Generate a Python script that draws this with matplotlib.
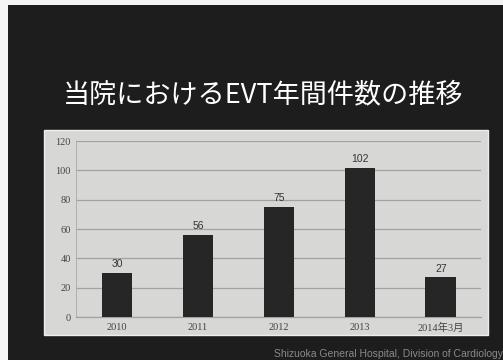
import matplotlib

matplotlib.use("Agg")
import matplotlib.pyplot as plt
from matplotlib.patches import Rectangle

# annual EVT case counts
years = ["2010", "2011", "2012", "2013", "2014年3月"]
counts = [30, 56, 75, 102, 27]
y_ticks = [0, 20, 40, 60, 80, 100, 120]

title = "当院におけるEVT年間件数の推移"
footer = "Shizuoka General Hospital, Division of Cardiology"

BG = "#1d1d1d"
PANEL = "#d7d7d5"
BAR = "#262626"
GRID = "#a2a2a0"

fig = plt.figure(figsize=(5.03, 3.6), dpi=100)
fig.patch.set_facecolor("#f4f4f4")

# dark slide area
fig.add_artist(Rectangle((0.016, 0.0), 0.984, 0.986, transform=fig.transFigure,
                         facecolor=BG, edgecolor="none", zorder=0))
# light chart panel
fig.add_artist(Rectangle((0.0875, 0.069), 0.883, 0.570, transform=fig.transFigure,
                         facecolor=PANEL, edgecolor="#eeeeee", linewidth=1.0, zorder=1))

fig.text(0.523, 0.736, title, color="white", fontsize=19.5,
         family=["Noto Sans CJK JP"], ha="center", va="center")
fig.text(0.545, 0.004, footer, color="#8a8a8a", fontsize=7.5,
         family=["Liberation Sans"], ha="left", va="bottom")

ax = fig.add_axes([0.152, 0.1194, 0.805, 0.4886], zorder=2)
ax.set_facecolor("none")
x = list(range(len(years)))
ax.bar(x, counts, width=0.38, color=BAR, zorder=3)
for xi, c in zip(x, counts):
    ax.text(xi, c + 2.5, str(c), ha="center", va="bottom", fontsize=7.5,
            color="#333333", family=["Liberation Sans"], zorder=4)

ax.set_xlim(-0.5, len(years) - 0.5)
ax.set_ylim(0, 120)
ax.set_yticks(y_ticks)
ax.set_yticklabels([str(t) for t in y_ticks], family=["Liberation Serif"],
                   fontsize=7.5, color="#444444")
ax.set_xticks(x)
ax.set_xticklabels(years, family=["Liberation Serif", "Noto Sans CJK JP"],
                   fontsize=7.5, color="#444444")
ax.tick_params(length=0, pad=4)
ax.grid(axis="y", color=GRID, linewidth=0.9, zorder=0)
for side in ("top", "right"):
    ax.spines[side].set_visible(False)
ax.spines["left"].set_color("#aaaaaa")
ax.spines["left"].set_linewidth(0.6)
ax.spines["bottom"].set_color(GRID)
ax.spines["bottom"].set_linewidth(0.9)

fig.savefig("out.png", dpi=100, facecolor=fig.get_facecolor())
